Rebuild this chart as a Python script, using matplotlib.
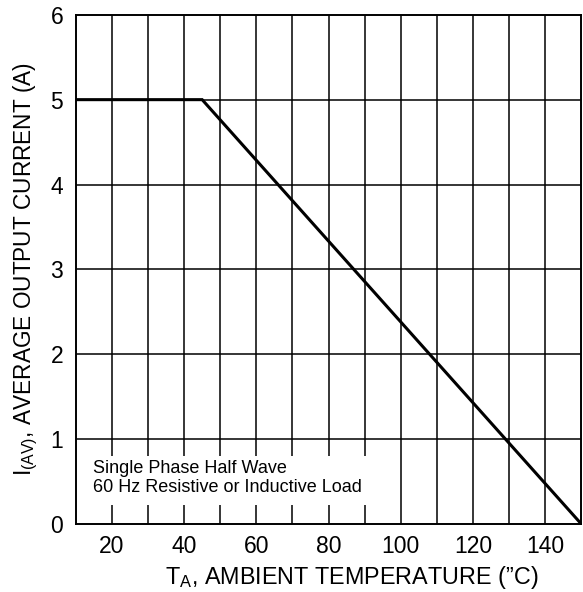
import matplotlib
matplotlib.use("Agg")
import matplotlib.pyplot as plt
from matplotlib.patches import Rectangle

plt.rcParams['font.family'] = ['Liberation Sans', 'DejaVu Sans']
plt.rcParams['mathtext.fontset'] = 'custom'
plt.rcParams['mathtext.rm'] = 'Liberation Sans'
plt.rcParams['mathtext.it'] = 'Liberation Sans'

# derating curve
temp = [10, 45, 150]
current = [5, 5, 0]

xticks = [20, 40, 60, 80, 100, 120, 140]
yticks = [0, 1, 2, 3, 4, 5, 6]
note = "Single Phase Half Wave\n60 Hz Resistive or Inductive Load"

fig = plt.figure(figsize=(5.83, 5.92), dpi=100)
ax = fig.add_axes([0.130, 0.115, 0.867, 0.860])

ax.set_xlim(10, 150)
ax.set_ylim(0, 6)

for xv in range(20, 150, 10):
    ax.axvline(xv, color='black', lw=1.1, zorder=1)
for yv in yticks[1:-1]:
    ax.axhline(yv, color='black', lw=1.1, zorder=1)

ax.add_patch(Rectangle((11, 0.22), 85, 0.58, facecolor='white',
                       edgecolor='none', zorder=2))
ax.text(14.7, 0.54, note, fontsize=13, va='center', ha='left',
        linespacing=1.2, zorder=3)

ax.plot(temp, current, color='black', lw=2.2, zorder=4,
        solid_joinstyle='miter')

ax.set_xticks(xticks)
ax.set_yticks(yticks)
ax.tick_params(direction='in', length=0, labelsize=16.5, pad=8)
ax.tick_params(axis='y', pad=9)
for s in ax.spines.values():
    s.set_linewidth(1.4)

ax.set_xlabel("T$_\\mathregular{A}$, AMBIENT TEMPERATURE (\u201dC)", fontsize=16.8)
ax.set_ylabel("I$_\\mathregular{(AV)}$, AVERAGE OUTPUT CURRENT (A)", fontsize=16.3)
ax.xaxis.set_label_coords(0.545, -0.079)
ax.yaxis.set_label_coords(-0.07, 0.5)

fig.savefig("out.png", dpi=100)
